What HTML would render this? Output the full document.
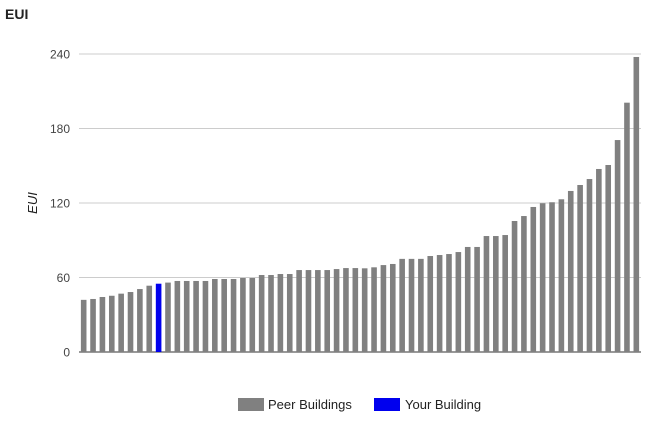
<!DOCTYPE html>
<html><head><meta charset="utf-8"><style>
body{margin:0;background:#fff;font-family:"Liberation Sans",Arial,sans-serif}
svg{display:block}
</style></head><body>
<svg id="chart" width="657" height="426" viewBox="0 0 657 426">
<text x="5" y="19" font-size="14" font-weight="bold" fill="#222">EUI</text>
<g id="grid"></g>
<g id="bars"></g>
<text transform="translate(37,203) rotate(-90)" text-anchor="middle" font-size="13" font-style="italic" fill="#222">EUI</text>
<g>
<rect x="238" y="398" width="26" height="13" fill="#808080"/>
<text x="268" y="409" font-size="13" fill="#222">Peer Buildings</text>
<rect x="374" y="398" width="26" height="13" fill="#0000ee"/>
<text x="405" y="409" font-size="13" fill="#222">Your Building</text>
</g>
</svg>
<script>
const values=[42,42.7,44.3,45.3,47,48.3,50.7,53.4,55,55.9,57.2,57.2,57.2,57.2,58.8,58.8,58.8,59.6,59.6,62,62,62.8,62.8,66,66,66,66,66.8,67.6,67.6,67.4,68.2,70,70.9,75,75,75,77.3,78.1,78.9,80.5,84.6,84.6,93.4,93.4,94.2,105.5,109.5,116.8,119.8,120.6,123,129.7,134.5,139.3,147.4,150.6,170.7,200.8,237.6];
const highlightIndex=8;
const yTicks=[0,60,120,180,240];
const NS="http://www.w3.org/2000/svg";
const x0=79,x1=641,yBase=352,yTop=54,yMax=240;
function y(v){return yBase-(v/yMax)*(yBase-yTop);}
const band=(x1-x0)/values.length;
function x(i){return x0+band*i+band/2;}
const grid=document.getElementById('grid');
yTicks.forEach(t=>{
 const l=document.createElementNS(NS,'line');
 l.setAttribute('x1',x0);l.setAttribute('x2',x1);
 l.setAttribute('y1',y(t));l.setAttribute('y2',y(t));
 l.setAttribute('stroke',t===0?'#333':'#ccc');l.setAttribute('stroke-width','1');
 
 
 grid.appendChild(l);
 const tx=document.createElementNS(NS,'text');
 tx.setAttribute('x',70);tx.setAttribute('y',y(t)+4.5);
 tx.setAttribute('text-anchor','end');tx.setAttribute('font-size','12');tx.setAttribute('fill','#444');
 tx.textContent=t;
 
 
 grid.appendChild(tx);
});
const bars=document.getElementById('bars');
const bw=5.6;
values.forEach((v,i)=>{
 const r=document.createElementNS(NS,'rect');
 r.setAttribute('x',x(i)-bw/2);r.setAttribute('width',bw);
 r.setAttribute('y',y(v));r.setAttribute('height',yBase-y(v));
 r.setAttribute('fill',i===highlightIndex?'#0000ee':'#808080');
 
 
 bars.appendChild(r);
});
grid.parentNode.appendChild(grid.lastChild);
</script>
</body></html>
